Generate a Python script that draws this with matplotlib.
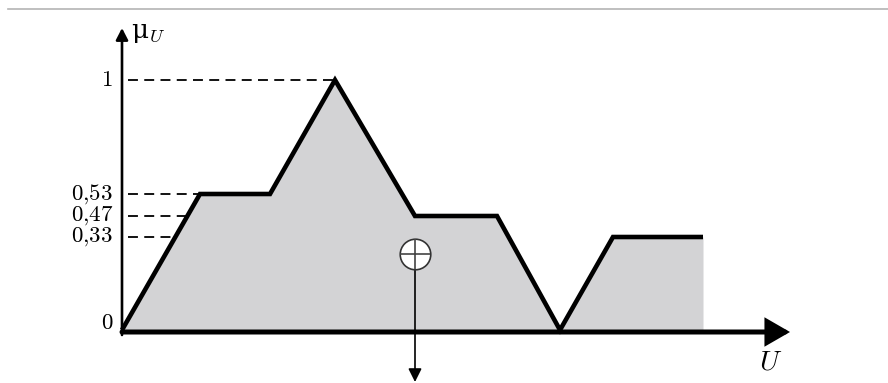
import numpy as np
import matplotlib.pyplot as plt
from matplotlib.lines import Line2D

plt.rcParams['mathtext.fontset'] = 'cm'
plt.rcParams['font.family'] = 'DejaVu Serif'

# Aggregated output membership function (breakpoints along U)
u_pts = [0.0, 7.8, 14.8, 21.3, 29.3, 37.5, 43.8, 49.1, 58.1]
mu_pts = [0.0, 0.53, 0.53, 1.0, 0.47, 0.47, 0.0, 0.33, 0.33]

# Levels marked on the membership axis
levels = [1.0, 0.53, 0.47, 0.33]
level_labels = ['$1$', '$0{,}53$', '$0{,}47$', '$0{,}33$']

# Centre of gravity
u_cog = 29.3
mu_cog = 0.27

# The membership axis is drawn with uneven spacing between the marked levels
knots_mu = [-1.0, 0.0, 0.33, 0.47, 0.53, 1.0, 2.0]
knots_px = [-250.0, 0.0, 93.0, 114.0, 136.0, 250.0, 500.0]


def fwd(v):
    return np.interp(v, knots_mu, knots_px)


def inv(v):
    return np.interp(v, knots_px, knots_mu)


fig = plt.figure(figsize=(8.88, 3.83), dpi=100)
ax = fig.add_axes([0, 0, 1, 1])
ax.set_yscale('function', functions=(fwd, inv))
ax.set_xlim(-12.2, 76.6)
ax.set_ylim(-0.212, 1.32)
ax.axis('off')

# thin rule at the top of the figure
fig.add_artist(Line2D([8 / 888, 1], [1 - 9 / 383, 1 - 9 / 383],
                      color='#b4b4b4', lw=1.2))

# shaded area under the curve
ax.fill_between(u_pts, mu_pts, 0, color='#d3d3d5', lw=0, zorder=1)
ax.plot(u_pts, mu_pts, color='black', lw=3.3, solid_joinstyle='miter',
        solid_capstyle='butt', zorder=3)

# dashed guides from the axis to the curve
rise_u = u_pts[1]
rise_px = fwd(mu_pts[1])
guide_ends = []
for lv in levels:
    if lv == 1.0:
        guide_ends.append(u_pts[3])
    else:
        guide_ends.append(rise_u * fwd(lv) / rise_px)
for lv, ue, lab in zip(levels, guide_ends, level_labels):
    ax.plot([0.6, ue], [lv, lv], color='black', lw=1.3, ls=(0, (5.5, 3.5)),
            zorder=2)
    ax.text(-0.9, lv, lab, ha='right', va='center', fontsize=16.5)
ax.text(-0.9, 0.025, '$0$', ha='right', va='center', fontsize=16.5)

# axes with arrow heads
ax.annotate('', xy=(66.8, -0.008), xytext=(0, -0.008),
            arrowprops=dict(arrowstyle='-|>,head_length=13,head_width=7.5',
                            mutation_scale=1, lw=3.6, color='black',
                            shrinkA=0, shrinkB=0, joinstyle='miter'),
            zorder=4)
ax.annotate('', xy=(0, 1.208), xytext=(0, -0.02),
            arrowprops=dict(arrowstyle='-|>,head_length=7,head_width=3.6',
                            mutation_scale=1, lw=1.9, color='black',
                            shrinkA=0, shrinkB=0),
            zorder=4)
ax.text(0.9, 1.19, r'μ$_U$', ha='left', va='center', fontsize=19)
ax.text(64.9, -0.13, '$U$', ha='center', va='center', fontsize=20)

# centre of gravity marker with arrow down to the U axis
ax.annotate('', xy=(u_cog, -0.208), xytext=(u_cog, mu_cog),
            arrowprops=dict(arrowstyle='-|>,head_length=8,head_width=4',
                            mutation_scale=1, lw=1.2, color='black',
                            shrinkA=0, shrinkB=0),
            zorder=5)
ax.plot(u_cog, mu_cog, 'o', ms=22, mfc='white', mec='#333333', mew=1.2,
        zorder=6)
ax.plot(u_cog, mu_cog, '+', ms=22, mec='#444444', mew=1.2, zorder=7)

fig.savefig('out.png', dpi=100)
